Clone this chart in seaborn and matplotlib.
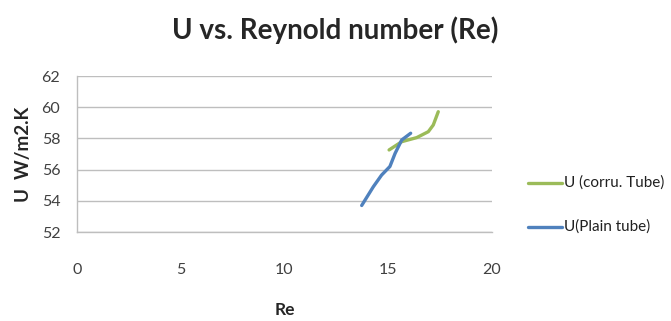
import matplotlib
matplotlib.use("Agg")
import matplotlib.pyplot as plt
import seaborn as sns
import pandas as pd

# values
re_corru = [15.04, 15.65, 16.37, 16.93, 17.17, 17.41]
u_corru = [57.26, 57.79, 58.05, 58.43, 58.86, 59.71]
re_plain = [13.72, 14.28, 14.68, 15.08, 15.33, 15.65, 16.08]
u_plain = [53.7, 54.9, 55.65, 56.2, 57.04, 57.9, 58.33]
x_ticks = [0, 5, 10, 15, 20]
y_ticks = [52, 54, 56, 58, 60, 62]

sns.set_style("white")
plt.rcParams['font.family'] = ['Lato', 'DejaVu Sans']

df = pd.concat([
    pd.DataFrame({"Re": re_corru, "U": u_corru, "series": "U (corru. Tube)"}),
    pd.DataFrame({"Re": re_plain, "U": u_plain, "series": "U(Plain tube)"}),
])

fig = plt.figure(figsize=(6.71, 3.21), dpi=100)
ax = fig.add_axes([77 / 671, 1 - 232 / 321, (492 - 77) / 671, (232 - 76) / 321])

sns.lineplot(data=df, x="Re", y="U", hue="series", sort=False, ax=ax,
             palette=["#9BBB59", "#4F81BD"], linewidth=2.4, legend=False,
             solid_capstyle="round", solid_joinstyle="round")

ax.set_xlim(0, 20)
ax.set_ylim(52, 62)
ax.set_xticks(x_ticks)
ax.set_yticks(y_ticks)
ax.grid(axis="y", color="#BEBEBE", linewidth=1)
ax.set_axisbelow(True)
for s in ["top", "right"]:
    ax.spines[s].set_visible(False)
for s in ["left", "bottom"]:
    ax.spines[s].set_color("#BEBEBE")
    ax.spines[s].set_linewidth(1)
ax.tick_params(axis="both", length=0, labelsize=11.5, labelcolor="#404040")
ax.tick_params(axis="x", pad=22)
ax.tick_params(axis="y", pad=12)
ax.set_xlabel("Re", fontsize=12.5, fontweight="bold", labelpad=18)
ax.set_ylabel("U  W/m2.K", fontsize=13.5, fontweight="bold", labelpad=7)

fig.text(0.5, 1 - 30 / 321, "U vs. Reynold number (Re)", ha="center", va="center",
         fontsize=20, fontweight="bold")

# legend
leg_items = [("U (corru. Tube)", "#9BBB59", 183), ("U(Plain tube)", "#4F81BD", 227)]
for label, color, ypx in leg_items:
    y = 1 - ypx / 321
    fig.add_artist(plt.Line2D([528 / 671, 562 / 671], [y, y], color=color,
                              linewidth=2.4, transform=fig.transFigure))
    fig.text(564 / 671, y, label, ha="left", va="center", fontsize=11, color="#202020")

fig.savefig("out.png", dpi=100)
